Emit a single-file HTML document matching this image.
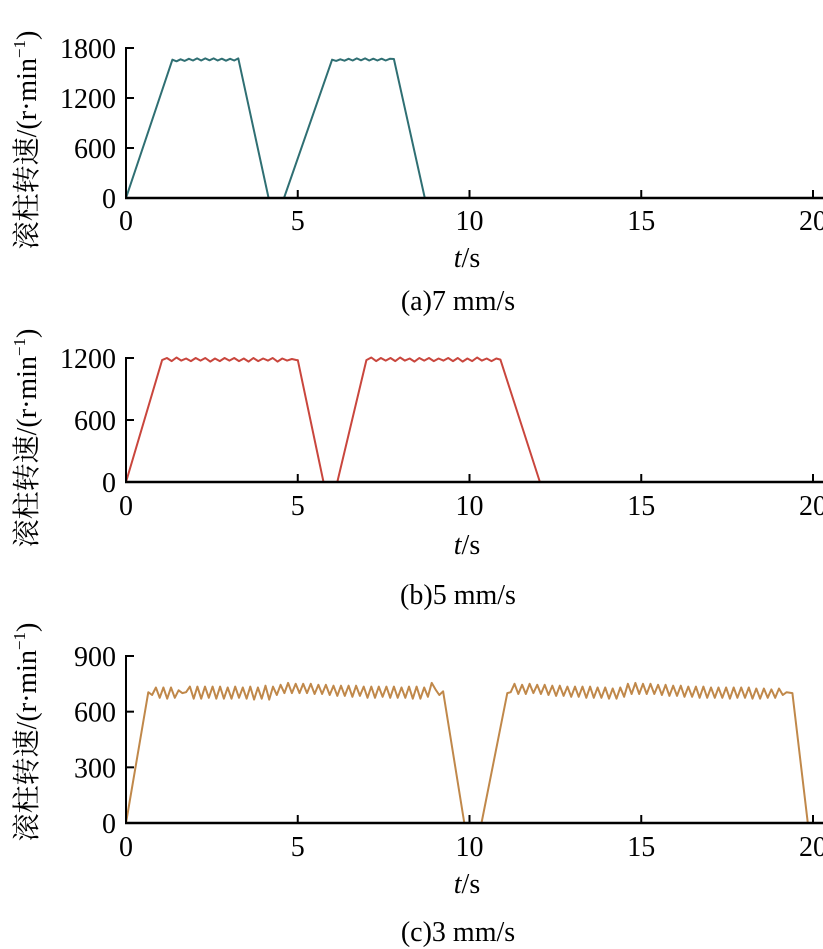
<!DOCTYPE html>
<html><head><meta charset="utf-8">
<style>
html,body{margin:0;padding:0;background:#fff;}
svg{display:block;}
text{font-family:"Liberation Serif","Noto Serif CJK SC",serif;fill:#000;}
</style></head>
<body>
<svg id="chart" width="823" height="949" viewBox="0 0 823 949" xmlns="http://www.w3.org/2000/svg"></svg>
<script>
// Panel (a) 7 mm/s
const aTicksY = [0, 600, 1200, 1800];
const aStartPts = [[0, 0]];
const aPlat1Start = 1.35, aPlat1Step = 0.12;
const aPlat1Vals = [1660, 1640, 1665, 1645, 1670, 1650, 1675, 1650, 1675, 1652, 1675, 1650, 1672, 1648, 1670, 1650, 1675];
const aMidPts = [[4.15, 0], [4.6, 0]];
const aPlat2Start = 6.0, aPlat2Step = 0.12;
const aPlat2Vals = [1660, 1645, 1665, 1648, 1670, 1650, 1675, 1652, 1675, 1650, 1672, 1650, 1672, 1650, 1670, 1668];
const aEndPts = [[8.7, 0], [20, 0]];

// Panel (b) 5 mm/s
const bTicksY = [0, 600, 1200];
const bStartPts = [[0, 0]];
const bPlat1Start = 1.05, bPlat1Step = 0.14;
const bPlat1Vals = [1180, 1200, 1170, 1205, 1175, 1195, 1170, 1200, 1175, 1200, 1165, 1195, 1170, 1200, 1175, 1200, 1170, 1195, 1165, 1200, 1170, 1195, 1175, 1200, 1165, 1195, 1175, 1190, 1180];
const bMidPts = [[5.0, 1180], [5.75, 0], [6.15, 0]];
const bPlat2Start = 7.0, bPlat2Step = 0.14;
const bPlat2Vals = [1180, 1205, 1170, 1200, 1175, 1200, 1170, 1205, 1175, 1195, 1165, 1200, 1175, 1200, 1170, 1195, 1175, 1200, 1170, 1200, 1165, 1195, 1170, 1205, 1175, 1195, 1170, 1195];
const bEndPts = [[10.9, 1185], [12.05, 0], [20, 0]];

// Panel (c) 3 mm/s
const cTicksY = [0, 300, 600, 900];
const cStartPts = [[0, 0]];
const cPlat1Start = 0.65, cPlat1Step = 0.11;
const cPlat1Vals = [705, 690, 730, 675, 730, 670, 730, 675, 715, 700, 705, 735, 670, 735, 670, 735, 675, 735, 670, 735, 670, 730, 670, 735, 675, 730, 670, 735, 665, 730, 670, 740, 665, 735, 690, 745, 700, 755, 700, 750, 700, 750, 700, 750, 695, 745, 695, 745, 690, 740, 685, 740, 685, 740, 680, 740, 685, 735, 675, 735, 675, 735, 680, 735, 675, 735, 675, 730, 675, 735, 670, 735, 670, 730, 680, 755, 720, 690, 710];
const cMidPts = [[9.85, 0], [10.35, 0], [11.1, 700]];
const cPlat2Start = 11.2, cPlat2Step = 0.11;
const cPlat2Vals = [705, 750, 695, 745, 695, 750, 700, 745, 695, 745, 690, 740, 685, 740, 685, 735, 680, 735, 680, 735, 675, 735, 675, 730, 675, 730, 670, 725, 670, 730, 680, 750, 695, 755, 695, 750, 695, 750, 695, 745, 690, 745, 685, 740, 685, 740, 680, 735, 680, 735, 675, 735, 675, 730, 675, 730, 675, 730, 670, 730, 675, 730, 675, 730, 670, 725, 670, 725, 675, 720, 675, 725, 690, 705];
const cEndPts = [[19.4, 700], [19.85, 0], [20, 0]];

const xTicks = [0, 5, 10, 15, 20];
const xTickLabels = ["0", "5", "10", "15", "20"];

const NS = "http://www.w3.org/2000/svg";
const svg = document.getElementById('chart');
function mk(tag, attrs, parent) {
  const e = document.createElementNS(NS, tag);
  for (const k in attrs) e.setAttribute(k, attrs[k]);
  (parent || svg).appendChild(e);
  return e;
}
function plat(start, step, vals) { return vals.map((v, i) => [start + i * step, v]); }

const panels = [
  { id: 'a', y0: 198, ymaxPx: 48, ymax: 1800, ticks: aTicksY, color: '#2f6f73', caption: '(a)7 mm/s', labelY: 220, tsY: 267, capY: 310, ylabC: 140,
    pts: [].concat(aStartPts, plat(aPlat1Start, aPlat1Step, aPlat1Vals), aMidPts, plat(aPlat2Start, aPlat2Step, aPlat2Vals), aEndPts) },
  { id: 'b', y0: 482, ymaxPx: 358, ymax: 1200, ticks: bTicksY, color: '#c9463d', caption: '(b)5 mm/s', labelY: 505, tsY: 554, capY: 604, ylabC: 438,
    pts: [].concat(bStartPts, plat(bPlat1Start, bPlat1Step, bPlat1Vals), bMidPts, plat(bPlat2Start, bPlat2Step, bPlat2Vals), bEndPts) },
  { id: 'c', y0: 823, ymaxPx: 656, ymax: 900, ticks: cTicksY, color: '#c0884a', caption: '(c)3 mm/s', labelY: 846, tsY: 893, capY: 941, ylabC: 732,
    pts: [].concat(cStartPts, plat(cPlat1Start, cPlat1Step, cPlat1Vals), cMidPts, plat(cPlat2Start, cPlat2Step, cPlat2Vals), cEndPts) }
];

const x0 = 126, x20 = 813;
const xs = t => x0 + (t / 20) * (x20 - x0);
const FS = 28;

panels.forEach(p => {
  const ys = v => p.y0 - (v / p.ymax) * (p.y0 - p.ymaxPx);
  const g = mk('g', {});
  
  
  const d = p.pts.map((q, i) => (i ? 'L' : 'M') + xs(q[0]).toFixed(1) + ' ' + ys(q[1]).toFixed(1)).join(' ');
  const line = mk('path', { d: d, fill: 'none', stroke: p.color, 'stroke-width': 2, 'stroke-linejoin': 'round' }, g);
  
  
  const ya = mk('line', { x1: x0, y1: ys(p.ymax) - 1, x2: x0, y2: p.y0, stroke: '#000', 'stroke-width': 2 }, g);
  
  
  const xa = mk('line', { x1: x0 - 1, y1: p.y0, x2: 823, y2: p.y0, stroke: '#000', 'stroke-width': 2.5 }, g);
  
  
  p.ticks.forEach(v => {
    mk('line', { x1: x0, y1: ys(v), x2: x0 + 8, y2: ys(v), stroke: '#000', 'stroke-width': 2 }, g);
    const t = mk('text', { x: x0 - 10, y: ys(v) + 10, 'font-size': FS, 'text-anchor': 'end' }, g);
    t.textContent = String(v);
    
    
  });
  xTicks.forEach((v, i) => {
    if (i > 0) mk('line', { x1: xs(v), y1: p.y0, x2: xs(v), y2: p.y0 - 8, stroke: '#000', 'stroke-width': 2 }, g);
    const t = mk('text', { x: xs(v), y: p.labelY + 10, 'font-size': FS, 'text-anchor': 'middle' }, g);
    t.textContent = xTickLabels[i];
    
    
  });
  const ts = mk('text', { x: 467, y: p.tsY, 'font-size': FS, 'text-anchor': 'middle' }, g);
  ts.innerHTML = '<tspan font-style="italic">t</tspan>/s';
  
  
  const cap = mk('text', { x: 458, y: p.capY, 'font-size': FS, 'text-anchor': 'middle' }, g);
  cap.textContent = p.caption;
  
  
  const yl = mk('text', { x: 0, y: 0, 'font-size': FS, 'text-anchor': 'middle', transform: 'translate(36,' + p.ylabC + ') rotate(-90)' }, g);
  yl.innerHTML = '滚柱转速/(r·min<tspan font-size="17" dy="-11">−1</tspan><tspan dy="11">)</tspan>';
  
  
});
</script>
</body></html>
